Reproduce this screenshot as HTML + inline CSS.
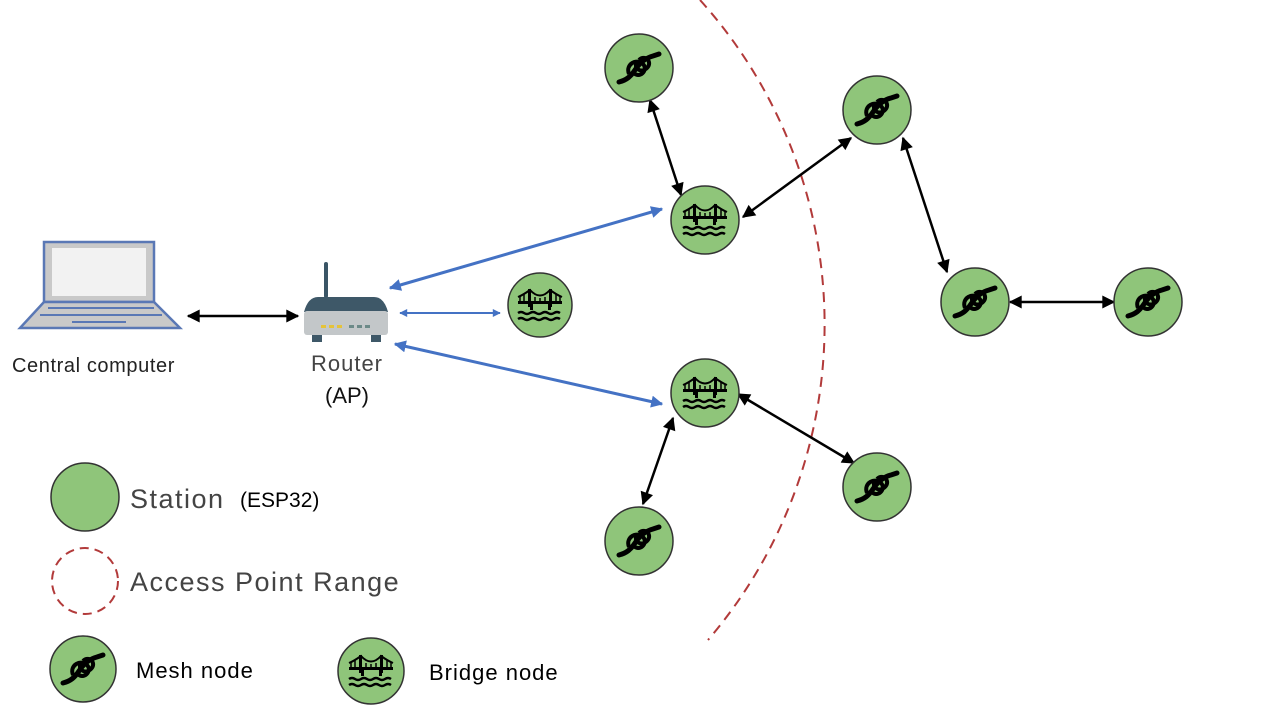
<!DOCTYPE html>
<html><head><meta charset="utf-8"><style>
html,body{margin:0;padding:0;background:#fff;width:1280px;height:720px;overflow:hidden}
svg{display:block}
text{font-family:"Liberation Sans",sans-serif}
</style></head><body>
<svg width="1280" height="720" viewBox="0 0 1280 720" xmlns="http://www.w3.org/2000/svg">
<defs>
<marker id="ak" viewBox="0 0 10 10" refX="9" refY="5" markerWidth="15" markerHeight="13" markerUnits="userSpaceOnUse" orient="auto-start-reverse"><path d="M0,0L10,5L0,10z" fill="#000"/></marker>
<marker id="ab" viewBox="0 0 10 10" refX="9" refY="5" markerWidth="14" markerHeight="12" markerUnits="userSpaceOnUse" orient="auto-start-reverse"><path d="M0,0L10,5L0,10z" fill="#4472c4"/></marker>
<marker id="ab2" viewBox="0 0 10 10" refX="9" refY="5" markerWidth="10" markerHeight="8" markerUnits="userSpaceOnUse" orient="auto-start-reverse"><path d="M0,0L10,5L0,10z" fill="#4472c4"/></marker>
<g id="knot">
<path d="M-20,14 C-12,12 -8,8 -4,2 C0,-4 6,-10 14,-12 L20,-14" fill="none" stroke="#000" stroke-width="5" stroke-linecap="round"/>
<path d="M-10,6 C-14,-4 -2,-10 4,-4 C10,2 0,12 -6,4 M0,-8 C6,-14 14,-6 8,0 C2,6 -6,0 -2,-6" fill="none" stroke="#000" stroke-width="4"/>
</g>
<g id="bridge">
<rect x="-22" y="-4" width="44" height="3" fill="#000"/>
<rect x="-12" y="-16" width="3" height="18" fill="#000"/><rect x="9" y="-16" width="3" height="18" fill="#000"/>
<path d="M-22,-8 Q-17,-10 -10,-15 Q0,-4 10,-15 Q17,-10 22,-8" fill="none" stroke="#000" stroke-width="2"/>
<path d="M-20,-4V-9M-16,-4V-11M-5,-4V-8M0,-4V-7M5,-4V-8M16,-4V-11M20,-4V-9" stroke="#000" stroke-width="1.5"/>
<rect x="-10" y="-1" width="3" height="6" fill="#000"/><rect x="8" y="-1" width="3" height="6" fill="#000"/>
<path d="M-22,8 q3,-2 6,0 t6,0 t6,0 t6,0 t6,0 t6,0 t6,0 M-22,14 q3,-2 6,0 t6,0 t6,0 t6,0 t6,0 t6,0 t6,0" fill="none" stroke="#000" stroke-width="2.5"/>
</g>
</defs>

<path d="M700,0 A485,485 0 0 1 708,640" fill="none" stroke="#b23a3a" stroke-width="2" stroke-dasharray="10,7"/>

<!-- laptop -->
<rect x="44" y="242" width="110" height="60" fill="#c9c9c9" stroke="#5a78b5" stroke-width="2.5"/>
<rect x="52" y="248" width="94" height="48" fill="#f2f2f2"/>
<path d="M44,302 L154,302 L180,328 L20,328 Z" fill="#c9c9c9" stroke="#5a78b5" stroke-width="2.5"/>
<line x1="48" y1="308" x2="154" y2="308" stroke="#5a78b5" stroke-width="2"/>
<line x1="40" y1="315" x2="162" y2="315" stroke="#5a78b5" stroke-width="2"/>
<line x1="72" y1="322" x2="126" y2="322" stroke="#5a78b5" stroke-width="2"/>
<text x="12" y="372" font-size="20" fill="#222" letter-spacing="0.6">Central computer</text>

<!-- router -->
<rect x="324" y="262" width="4" height="36" rx="2" fill="#3a5566"/>
<path d="M318,297 L374,297 Q384,297 388,312 L304,312 Q308,297 318,297Z" fill="#3e5868"/>
<rect x="304" y="311" width="84" height="24" rx="3" fill="#c3c7c9"/>
<rect x="321" y="325" width="5" height="3" fill="#e5c33a"/><rect x="329" y="325" width="5" height="3" fill="#e5c33a"/><rect x="337" y="325" width="5" height="3" fill="#e5c33a"/>
<rect x="349" y="325" width="5" height="3" fill="#6c8a88"/><rect x="357" y="325" width="5" height="3" fill="#6c8a88"/><rect x="365" y="325" width="5" height="3" fill="#6c8a88"/>
<rect x="312" y="335" width="10" height="7" fill="#3e5868"/><rect x="371" y="335" width="10" height="7" fill="#3e5868"/>
<text x="347" y="371" font-size="22" fill="#444" text-anchor="middle" letter-spacing="1">Router</text>
<text x="347" y="403" font-size="22" fill="#111" text-anchor="middle">(AP)</text>

<g stroke="#000" stroke-width="2.5" marker-start="url(#ak)" marker-end="url(#ak)" fill="none">
<line x1="188" y1="316" x2="298" y2="316"/>
<line x1="650" y1="100" x2="681" y2="195"/>
<line x1="743" y1="217" x2="851" y2="138"/>
<line x1="903" y1="138" x2="947" y2="272"/>
<line x1="1010" y1="302" x2="1114" y2="302"/>
<line x1="738" y1="394" x2="854" y2="463"/>
<line x1="673" y1="418" x2="643" y2="504"/>
</g>
<g stroke="#4472c4" fill="none">
<line x1="390" y1="288" x2="662" y2="209" stroke-width="3" marker-start="url(#ab)" marker-end="url(#ab)"/>
<line x1="400" y1="313" x2="500" y2="313" stroke-width="2" marker-start="url(#ab2)" marker-end="url(#ab2)"/>
<line x1="395" y1="344" x2="662" y2="404" stroke-width="3" marker-start="url(#ab)" marker-end="url(#ab)"/>
</g>

<g fill="#8fc57a" stroke="#333" stroke-width="1.5">
<circle cx="639" cy="68" r="34"/><circle cx="877" cy="110" r="34"/><circle cx="975" cy="302" r="34"/>
<circle cx="1148" cy="302" r="34"/><circle cx="877" cy="487" r="34"/><circle cx="639" cy="541" r="34"/>
<circle cx="705" cy="220" r="34"/><circle cx="540" cy="305" r="32"/><circle cx="705" cy="393" r="34"/>
<circle cx="85" cy="497" r="34"/><circle cx="83" cy="669" r="33"/><circle cx="371" cy="671" r="33"/>
</g>
<use href="#knot" x="639" y="68"/><use href="#knot" x="877" y="110"/><use href="#knot" x="975" y="302"/>
<use href="#knot" x="1148" y="302"/><use href="#knot" x="877" y="487"/><use href="#knot" x="639" y="541"/>
<use href="#knot" x="83" y="669"/>
<use href="#bridge" x="705" y="220"/><use href="#bridge" x="540" y="305"/><use href="#bridge" x="705" y="393"/>
<use href="#bridge" x="371" y="671"/>

<circle cx="85" cy="581" r="33" fill="none" stroke="#b23a3a" stroke-width="2" stroke-dasharray="9,6"/>
<text x="130" y="508" font-size="27" fill="#444" letter-spacing="1.5">Station</text>
<text x="240" y="507" font-size="21" fill="#000">(ESP32)</text>
<text x="130" y="591" font-size="27" fill="#444" letter-spacing="1.5">Access Point Range</text>
<text x="136" y="678" font-size="22" fill="#000" letter-spacing="1">Mesh node</text>
<text x="429" y="680" font-size="22" fill="#000" letter-spacing="1">Bridge node</text>
</svg>
</body></html>
